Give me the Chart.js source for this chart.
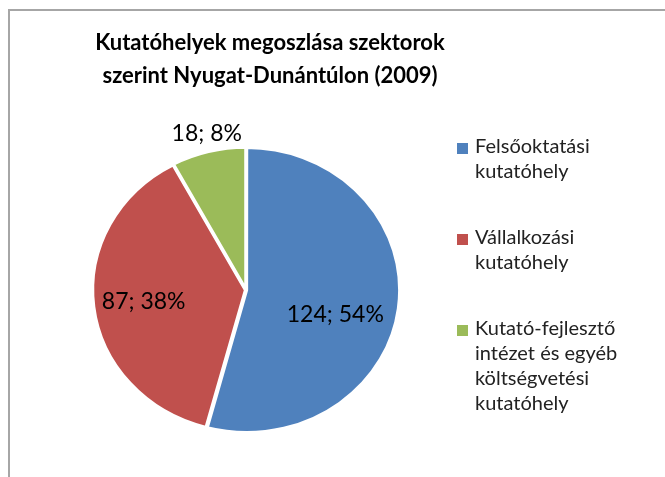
<!DOCTYPE html>
<html>
<head>
<meta charset="utf-8">
<script src="https://cdn.jsdelivr.net/npm/chart.js@4.4.1/dist/chart.umd.min.js"></script>
<style>
  html, body { margin: 0; padding: 0; background: #fff; overflow: hidden; }
  #wrap { position: relative; width: 665px; height: 477px; }
  #frame { position: absolute; left: 8px; top: 9px; width: 700px; height: 500px; border-left: 2px solid #a6a6a6; border-top: 2px solid #a6a6a6; }
  #chart { position: absolute; left: 0; top: 0; }
  #title { position: absolute; left: 0; top: 25px; width: 540px; text-align: center; font: bold 22px/33px Lato, sans-serif; color: #000; }
  #legend { position: absolute; left: 457px; top: 133px; font: 20px/25px Lato, sans-serif; color: #222; }
  .item { position: relative; padding-left: 18px; margin-bottom: 41px; }
  .box { position: absolute; left: 0; top: 10px; width: 11px; height: 11px; }
</style>
</head>
<body>
<div id="wrap">
  <div id="frame"></div>
  <canvas id="chart" width="665" height="477"></canvas>
  <div id="title"></div>
  <div id="legend"></div>
</div>
<script>
const titleLines = ['Kutatóhelyek megoszlása szektorok', 'szerint Nyugat-Dunántúlon (2009)'];
const categories = [
    ['Felsőoktatási', 'kutatóhely'],
    ['Vállalkozási', 'kutatóhely'],
    ['Kutató-fejlesztő', 'intézet és egyéb', 'költségvetési', 'kutatóhely']
];
const counts = [124, 87, 18];
const colors = ['#4F81BD', '#C0504D', '#9BBB59'];

const total = counts.reduce((a, b) => a + b, 0);
const percents = counts.map(v => Math.round(v / total * 100));

// pie in the picture is a bit wider than tall
const stretchX = 1.075;
// where each data label sits: fraction of radius, extra angle in degrees
const labelPos = [{ r: 0.61, a: 9 }, { r: 0.675, a: 0 }, { r: 1.13, a: 1 }];

const pieLabels = {
    id: 'pieLabels',
    beforeDatasetsDraw(chart) {
        const arc = chart.getDatasetMeta(0).data[0];
        const c = chart.ctx;
        c.save();
        c.translate(arc.x, 0);
        c.scale(stretchX, 1);
        c.translate(-arc.x, 0);
    },
    afterDatasetsDraw(chart) {
        const c = chart.ctx;
        c.restore();
        c.save();
        c.font = '23px Lato, sans-serif';
        c.fillStyle = '#000';
        c.textAlign = 'center';
        c.textBaseline = 'middle';
        chart.getDatasetMeta(0).data.forEach((arc, i) => {
            const p = arc.getProps(['x', 'y', 'startAngle', 'endAngle', 'outerRadius'], true);
            const mid = (p.startAngle + p.endAngle) / 2 + labelPos[i].a * Math.PI / 180;
            const r = p.outerRadius * labelPos[i].r;
            c.fillText(counts[i] + '; ' + percents[i] + '%', p.x + Math.cos(mid) * r * stretchX, p.y + Math.sin(mid) * r);
        });
        c.restore();
    }
};

document.getElementById('title').innerHTML = titleLines.join('<br>');

// legend
const legend = document.getElementById('legend');
categories.forEach((lines, i) => {
    const item = document.createElement('div');
    item.className = 'item';
    item.innerHTML = '<span class="box" style="background:' + colors[i] + '"></span>' + lines.join('<br>');
    legend.appendChild(item);
});

const ctx = document.getElementById('chart').getContext('2d');
const pieChart = new Chart(ctx, {
    type: 'pie',
    data: {
        labels: categories,
        datasets: [{
            data: counts,
            backgroundColor: colors,
            borderColor: '#ffffff',
            borderWidth: 3,
            offset: 2,
            hoverOffset: 0,
            radius: 142,
            clip: false
        }]
    },
    options: {
        responsive: false,
        animation: false,
        layout: { padding: { left: 100, right: 273, top: 148, bottom: 45 } },
        plugins: {
            legend: { display: false },
            title: { display: false },
            tooltip: { enabled: false }
        }
    },
    plugins: [pieLabels]
});
</script>
</body>
</html>
